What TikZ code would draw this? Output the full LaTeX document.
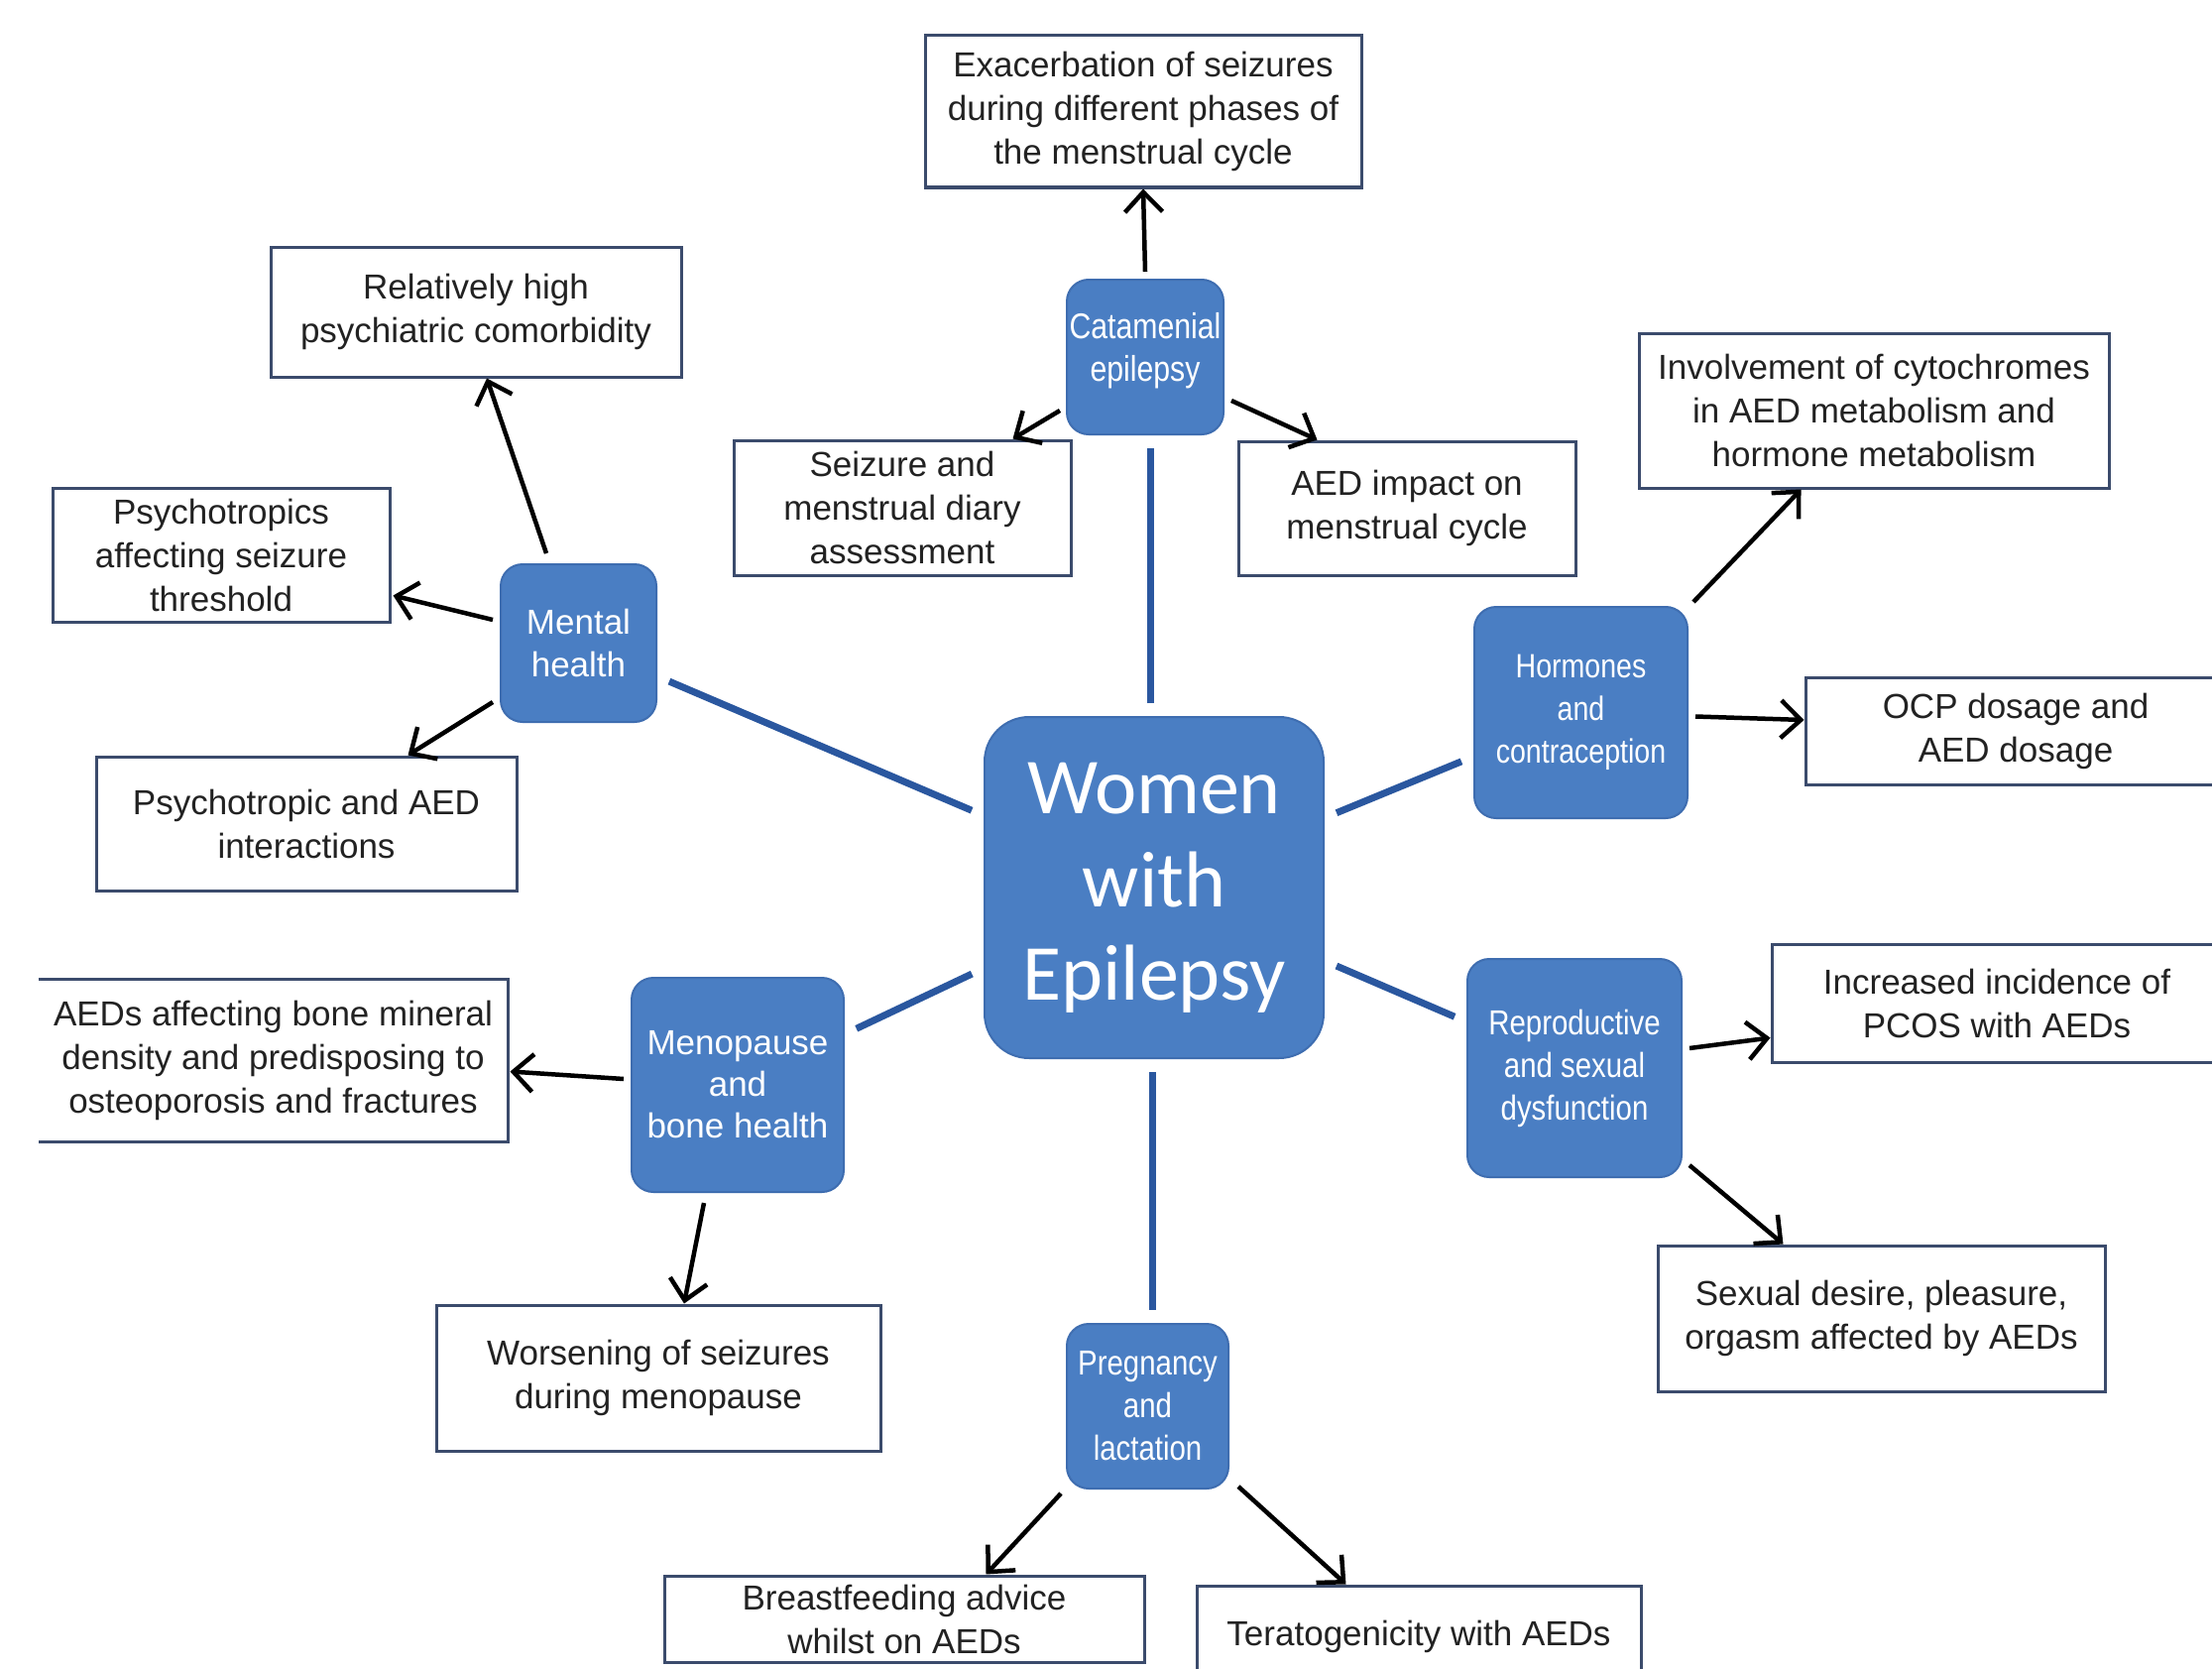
\documentclass[tikz,border=0pt]{standalone}
\usepackage{fontspec}
\setmainfont{Liberation Sans}
\newfontfamily\narrowsf[FakeStretch=0.84]{Liberation Sans}
\newfontfamily\calibrif{Carlito}
\usetikzlibrary{arrows.meta,calc}
\definecolor{hubblue}{HTML}{4A7EC3}
\definecolor{hubedge}{HTML}{3E6DB0}
\definecolor{linkblue}{HTML}{2A579F}
\definecolor{boxedge}{HTML}{3B4B6C}
\definecolor{txt}{HTML}{222222}
\begin{document}
\begin{tikzpicture}[x=1pt,y=-1pt,
 infobox/.style={draw=boxedge,line width=3pt,fill=white,inner sep=0pt,align=center,text=txt,font=\fontsize{35}{44}\selectfont},
 hub/.style={draw=hubedge,line width=2pt,fill=hubblue,rounded corners=22pt,inner sep=0pt,align=center,text=white,font=\fontsize{35}{43}\selectfont},
 narrowhub/.style={hub,font=\narrowsf\fontsize{35}{43}\selectfont},
 link/.style={draw=linkblue,line width=7pt,shorten <=13pt,shorten >=13pt},
 arr/.style={draw=black,line width=4.5pt,-{Straight Barb[length=20pt,width=38pt]}}]
\fill[white] (0,0) rectangle (2231,1683);
\useasboundingbox (0,0) rectangle (2231,1683);

% centre
\node[hub,rounded corners=45pt,minimum width=342pt,minimum height=344pt,font=\calibrif\fontsize{80}{94}\selectfont] (women) at (1164,895) {Women\\with\\Epilepsy};

% hubs
\node[narrowhub,minimum width=158pt,minimum height=156pt] (cat) at (1155,360) {};
\node[text=white,align=center,font=\narrowsf\fontsize{36}{43}\selectfont] (cattext) at (1155,354) {Catamenial\\epilepsy};
\node[hub,minimum width=157pt,minimum height=159pt] (mental) at (583.5,648.5) {Mental\\health};
\node[narrowhub,minimum width=215pt,minimum height=213pt,font=\narrowsf\fontsize{34}{43}\selectfont] (horm) at (1594.5,718.5) {Hormones\\and\\contraception};
\node[hub,minimum width=214pt,minimum height=216pt,font=\fontsize{35}{42}\selectfont] (meno) at (744,1094) {Menopause\\and\\bone health};
\node[narrowhub,minimum width=216pt,minimum height=220pt] (repro) at (1588,1077) {Reproductive\\and sexual\\dysfunction};
\node[narrowhub,minimum width=163pt,minimum height=166pt] (preg) at (1157.5,1418) {Pregnancy\\and\\lactation};

% information boxes
\node[infobox,minimum width=440pt,minimum height=153pt] (exac) at (1153,112.5) {Exacerbation of seizures\\during different phases of\\the menstrual cycle};
\node[infobox,minimum width=414pt,minimum height=131pt] (rel) at (480,314.5) {Relatively high\\psychiatric comorbidity};
\node[infobox,minimum width=474pt,minimum height=156pt] (inv) at (1890,414) {Involvement of cytochromes\\in AED metabolism and\\hormone metabolism};
\node[infobox,minimum width=340pt,minimum height=135pt] (psyA) at (223,559.5) {Psychotropics\\affecting seizure\\threshold};
\node[infobox,minimum width=340pt,minimum height=136pt] (diary) at (910,512) {Seizure and\\menstrual diary\\assessment};
\node[infobox,minimum width=340pt,minimum height=135pt] (aedimp) at (1419,512.5) {AED impact on\\menstrual cycle};
\node[infobox,minimum width=424pt,minimum height=108pt] (ocp) at (2033,737) {OCP dosage and\\AED dosage};
\node[infobox,minimum width=424pt,minimum height=135pt] (psyB) at (309,830.5) {Psychotropic and AED\\interactions};
\node[infobox,draw=none,minimum width=471pt,minimum height=161pt] (bone) at (275.5,1069.5) {AEDs affecting bone mineral\\density and predisposing to\\osteoporosis and fractures};
\draw[boxedge,line width=3pt] (bone.north west) -- (bone.north east) -- (bone.south east) -- (bone.south west);
\node[infobox,minimum width=454pt,minimum height=119pt] (incr) at (2014,1011.5) {Increased incidence of\\PCOS with AEDs};
\node[infobox,minimum width=448pt,minimum height=147pt] (wors) at (664,1389.5) {Worsening of seizures\\during menopause};
\node[infobox,minimum width=451pt,minimum height=147pt] (sex) at (1897.5,1329.5) {Sexual desire, pleasure,\\orgasm affected by AEDs};
\node[infobox,minimum width=484pt,minimum height=87pt] (breast) at (912,1632.5) {Breastfeeding advice\\whilst on AEDs};
\node[infobox,minimum width=448pt,minimum height=102pt] (terat) at (1431,1650) {Teratogenicity with AEDs};

% blue links from the centre
\draw[link] ($(women.north)+(-4,0)$) -- ($(cat.south)+(5,0)$);
\draw[link] (women) -- (mental);
\draw[link] (women) -- (horm);
\draw[link] (women) -- (meno);
\draw[link] (women) -- (repro);
\draw[link] ($(women.south)+(-2,0)$) -- ($(preg.north)+(4.5,0)$);

% black arrows
\draw[arr] ($(cat.north)+(0,-7)$) -- (exac.south);
\draw[arr] ($(cat.south west)+(-6,-25)$) -- ($(diary.north east)+(-60,0)$);
\draw[arr] ($(cat.south east)+(7,-35)$) -- ($(aedimp.north west)+(81,0)$);
\draw[arr] ($(mental.north west)+(47,-10)$) -- ($(rel.south)+(11,0)$);
\draw[arr] ($(mental.north west)+(-7,57)$) -- ($(psyA.south east)+(2,-28)$);
\draw[arr] ($(mental.south west)+(-7,-21)$) -- ($(psyB.north west)+(316,0)$);
\draw[arr] ($(horm.north east)+(5,-4)$) -- ($(inv.south west)+(165,0)$);
\draw[arr] ($(horm.east)+(7,4)$) -- ($(ocp.west)+(0,-11)$);
\draw[arr] ($(meno.west)+(-7,-6)$) -- ($(bone.east)+(2,11)$);
\draw[arr] ($(meno.south)+(-34,10)$) -- ($(wors.north)+(26,0)$);
\draw[arr] ($(repro.east)+(7,-20)$) -- ($(incr.west)+(0,35)$);
\draw[arr] ($(repro.south east)+(7,-13)$) -- ($(sex.north west)+(128,0)$);
\draw[arr] ($(preg.south west)+(-5,4)$) -- ($(breast.north west)+(326,0)$);
\draw[arr] ($(preg.south east)+(9,-3)$) -- ($(terat.north west)+(152,0)$);
\end{tikzpicture}
\end{document}
